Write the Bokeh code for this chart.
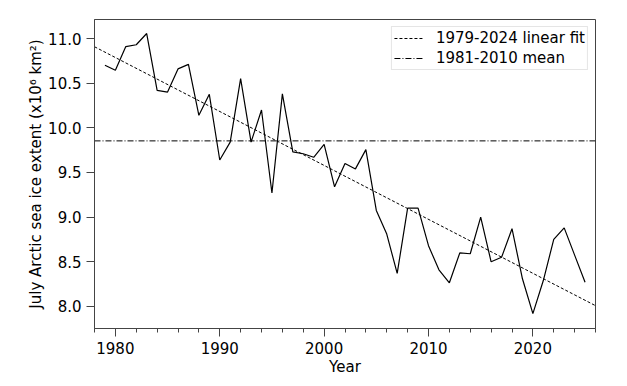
import numpy as np
from bokeh.plotting import figure
from bokeh.models import (Range1d, SingleIntervalTicker, PrintfTickFormatter,
                          Legend, LegendItem)
from bokeh.embed import file_html
from bokeh.resources import INLINE

# ---- data ----
years = list(range(1979, 2026))
extent = [10.70, 10.645, 10.91, 10.93, 11.056, 10.42, 10.40, 10.66, 10.71, 10.14,
          10.375, 9.64, 9.84, 10.55, 9.84, 10.20, 9.27, 10.38, 9.73, 9.71,
          9.67, 9.815, 9.34, 9.60, 9.54, 9.756, 9.075, 8.81, 8.37, 9.10,
          9.10, 8.68, 8.41, 8.265, 8.60, 8.59, 9.00, 8.50, 8.55, 8.87,
          8.31, 7.92, 8.29, 8.75, 8.88, 8.575, 8.27]
fit_period = (1979, 2024)
mean_period = (1981, 2010)
xlim = (1978.0, 2026.0)
ylim = (7.753, 11.213)
fit_label = "1979-2024 linear fit"
mean_label = "1981-2010 mean"
x_label = "Year"
y_label = "July Arctic sea ice extent (x10\u2076 km\u00b2)"

yrs = np.array(years, dtype=float)
ext = np.array(extent)
sel = (yrs >= fit_period[0]) & (yrs <= fit_period[1])
slope, icpt = np.polyfit(yrs[sel], ext[sel], 1)
msel = (yrs >= mean_period[0]) & (yrs <= mean_period[1])
mean_val = float(ext[msel].mean())

FONT = "DejaVu Sans"
FS = "15px"
AX = "#444444"

p = figure(width=619, height=380, output_backend="svg", toolbar_location=None,
           x_range=Range1d(*xlim), y_range=Range1d(*ylim),
           min_border_left=94, min_border_right=24, min_border_top=19,
           min_border_bottom=52)
p.background_fill_color = "white"
p.border_fill_color = "white"
p.outline_line_color = AX
p.outline_line_width = 1
p.xgrid.visible = False
p.ygrid.visible = False

fx = np.array(xlim)
r_fit = p.line(fx, slope * fx + icpt, line_color="black", line_width=1,
               line_dash="3 2")
r_mean = p.line(fx, [mean_val, mean_val], line_color="black", line_width=1,
                line_dash="6 2 1 2")
p.line(years, extent, line_color="black", line_width=1.2)

p.xaxis.ticker = SingleIntervalTicker(interval=10, num_minor_ticks=5)
p.yaxis.ticker = SingleIntervalTicker(interval=0.5, num_minor_ticks=0)
p.yaxis.formatter = PrintfTickFormatter(format="%.1f")
for ax in (p.xaxis[0], p.yaxis[0]):
    ax.axis_line_color = AX
    ax.major_tick_line_color = AX
    ax.minor_tick_line_color = AX
    ax.major_tick_out = 8
    ax.major_tick_in = 0
    ax.minor_tick_out = 4
    ax.minor_tick_in = 0
    ax.major_label_text_font = FONT
    ax.major_label_text_font_size = FS
    ax.major_label_text_color = "black"
    ax.axis_label_text_font = FONT
    ax.axis_label_text_font_size = FS
    ax.axis_label_text_font_style = "normal"
    ax.axis_label_text_color = "black"
p.xaxis.axis_label = x_label
p.yaxis.axis_label = y_label
p.xaxis.major_label_standoff = 5
p.yaxis.major_label_standoff = 5
p.xaxis.axis_label_standoff = 1
p.yaxis.axis_label_standoff = 0

legend = Legend(items=[LegendItem(label=fit_label, renderers=[r_fit]),
                       LegendItem(label=mean_label, renderers=[r_mean])],
                location="top_right")
legend.label_text_font = FONT
legend.label_text_font_size = FS
legend.label_text_color = "black"
legend.border_line_color = "#cccccc"
legend.border_line_width = 1
legend.background_fill_alpha = 0.8
legend.padding = 2
legend.spacing = 2
legend.label_height = 18
legend.glyph_height = 18
legend.glyph_width = 29
legend.label_standoff = 13
legend.margin = 7
p.add_layout(legend)

open("out.html", "w").write(file_html(p, INLINE))
